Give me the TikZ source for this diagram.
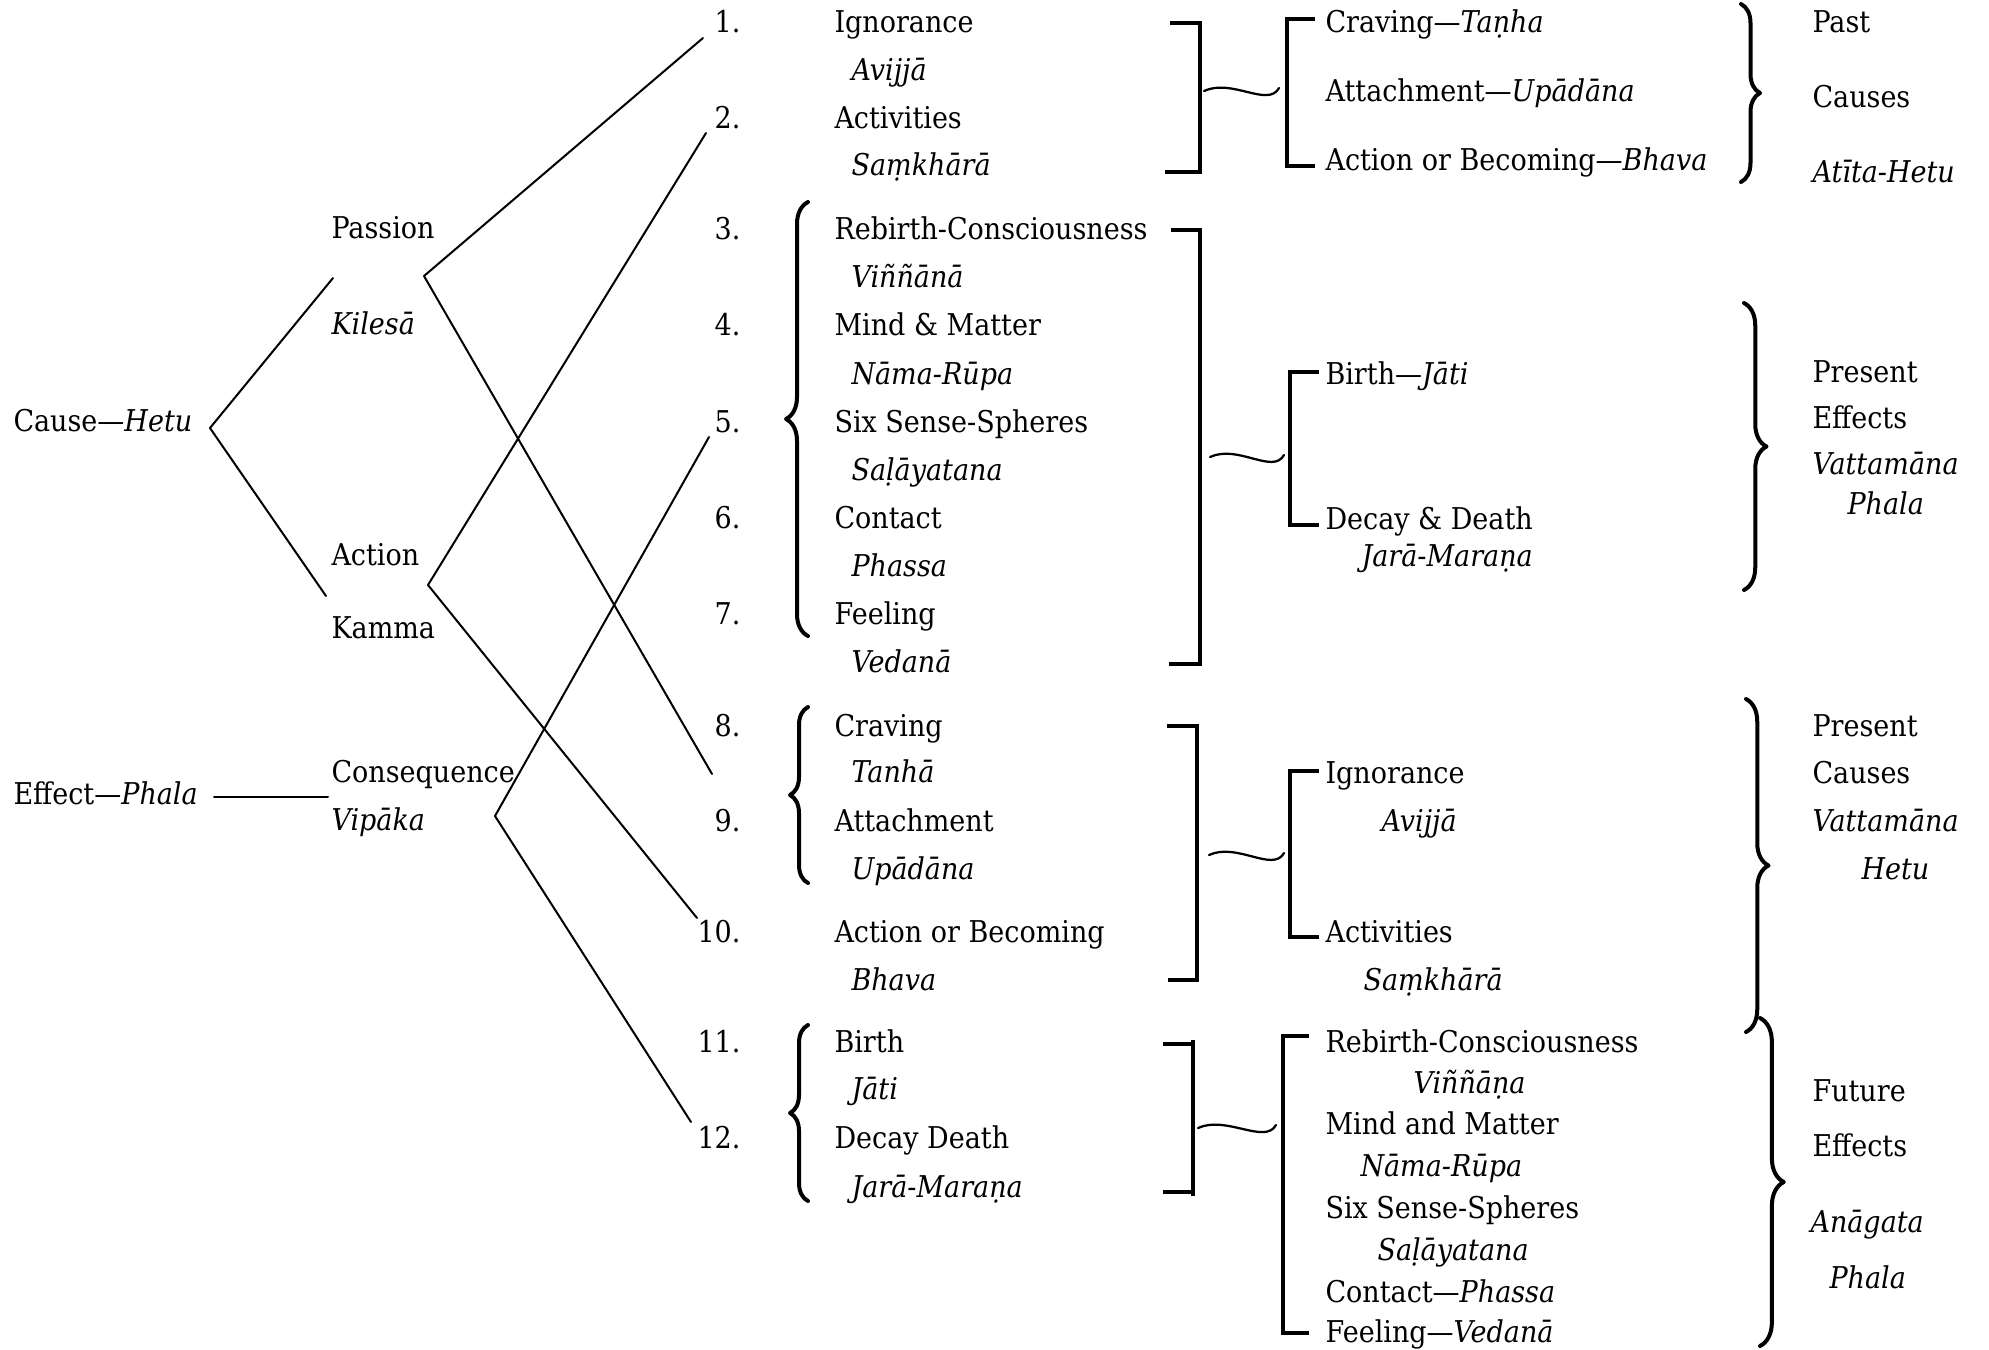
\documentclass[tikz,border=0pt]{standalone}
\usepackage{fontspec}
\setmainfont{DejaVu Serif}[FakeStretch=0.9]
\usetikzlibrary{decorations.pathreplacing}
\begin{document}
\begin{tikzpicture}[join=round, cap=round, x=0.4pt, y=-0.4pt,
		font=\fontsize{12}{14}\selectfont,
		lab/.style={anchor=base west, inner sep=0pt},
		pali/.style={anchor=base west, inner sep=0pt, font=\fontsize{12}{14}\selectfont\itshape},
		num/.style={anchor=base east, inner sep=0pt},
		tree/.style={line width=0.8pt},
		bar/.style={line width=1.4pt, cap=butt, join=miter},
		wave/.style={line width=0.9pt},
		curly/.style={decorate, decoration={brace, amplitude=#1}, line width=1.6pt},
		curly/.default=7pt]
		\useasboundingbox (0,0) rectangle (1989,1349);
		% left tree
		\path
		(13,431) node[lab] (cause) {Cause—\textit{Hetu}}
		(13,804) node[lab] (effect) {Effect—\textit{Phala}}
		(331,238) node[lab] (passion) {Passion}
		(331,334) node[pali] (kilesa) {Kilesā}
		(331,565) node[lab] (action) {Action}
		(331,638) node[lab] (kamma) {Kamma}
		(331,782) node[lab] (conseq) {Consequence}
		(331,830) node[pali] (vipaka) {Vipāka};
		\coordinate (vC) at (210,428);
		\coordinate (tP) at (333,278);
		\coordinate (tK) at (326,596);
		\coordinate (vP) at (424,276);
		\coordinate (vA) at (428,585);
		\coordinate (vV) at (495,816);
		\coordinate (eL) at (214,797);
		\coordinate (eR) at (328,797);
		\coordinate (e1) at (703,38);
		\coordinate (e2) at (706,133);
		\coordinate (e5) at (709,437);
		\coordinate (e9) at (712,774);
		\coordinate (e10) at (697,918);
		\coordinate (e12) at (691,1122);
		\draw[tree] (tP)--(vC)--(tK);
		\draw[tree] (e1)--(vP)--(e9);
		\draw[tree] (e2)--(vA)--(e10);
		\draw[tree] (e5)--(vV)--(e12);
		\draw[tree] (eL)--(eR);
		% the twelve links
		\foreach \k/\yy in {1/32,2/128,3/239,4/335,5/432,6/528,7/624,8/736,9/831,10/942,11/1052,12/1148}
		\node[num] (n\k) at (741,\yy) {\k.};
		\foreach \k/\yy/\txt in {1/32/Ignorance, 2/128/Activities, 3/239/Rebirth-Consciousness,
			4/335/Mind \& Matter, 5/432/Six Sense-Spheres, 6/528/Contact, 7/624/Feeling,
			8/736/Craving, 9/831/Attachment, 10/942/Action or Becoming, 11/1052/Birth, 12/1148/Decay Death}
		\node[lab] (m\k) at (834,\yy) {\txt};
		\foreach \k/\yy/\txt in {1/80/Avijjā, 2/175/Saṃkhārā, 3/287/Viññānā, 4/384/Nāma-Rūpa,
			5/480/Saḷāyatana, 6/576/Phassa, 7/672/Vedanā, 8/782/Tanhā, 9/879/Upādāna,
			10/990/Bhava, 11/1099/Jāti, 12/1197/Jarā-Maraṇa}
		\node[pali] (s\k) at (851,\yy) {\txt};
		\draw[curly=8.8pt] (808,636)--(808,202);
		\draw[curly=7.2pt] (808,883)--(808,707);
		\draw[curly=7.2pt] (808,1201)--(808,1025);
		% brackets
		\draw[bar] (1170,23) -| (1200,172) -- (1165,172);
		\draw[bar] (1171,230) -| (1200,664) -- (1169,664);
		\draw[bar] (1167,726) -| (1197,980) -- (1168,980);
		\draw[bar] (1163,1044)--(1193,1044) (1193,1040)--(1193,1196) (1163,1192)--(1193,1192);
		\draw[bar] (1315,19) -| (1287,166) -- (1315,166);
		\draw[bar] (1319,372) -| (1290,525) -- (1319,525);
		\draw[bar] (1319,771) -| (1290,937) -- (1319,937);
		\draw[bar] (1309,1036) -| (1283,1333) -- (1309,1333);
		\coordinate (wlA) at (1204,91);  \coordinate (wrA) at (1279,88);
		\coordinate (wlB) at (1210,457); \coordinate (wrB) at (1284,455);
		\coordinate (wlC) at (1209,855); \coordinate (wrC) at (1284,853);
		\coordinate (wlD) at (1198,1128); \coordinate (wrD) at (1276,1125);
		\foreach \g in {A,B,C,D}
		\draw[wave] (wl\g) .. controls +(28,-13) and +(-11,20) .. (wr\g);
		% regrouped links
		\path
		(1325,32) node[lab] (a1) {Craving—\textit{Taṇha}}
		(1325,101) node[lab] (a2) {Attachment—\textit{Upādāna}}
		(1325,170) node[lab] (a3) {Action or Becoming—\textit{Bhava}}
		(1325,384) node[lab] (b1) {Birth—\textit{Jāti}}
		(1325,529) node[lab] (b2) {Decay \& Death}
		(1361,566) node[pali] (b3) {Jarā-Maraṇa}
		(1325,783) node[lab] (c1) {Ignorance}
		(1381,831) node[pali] (c2) {Avijjā}
		(1325,942) node[lab] (c3) {Activities}
		(1363,990) node[pali] (c4) {Saṃkhārā}
		(1325,1052) node[lab] (d1) {Rebirth-Consciousness}
		(1413,1093) node[pali] (d2) {Viññāṇa}
		(1325,1134) node[lab] (d3) {Mind and Matter}
		(1360,1176) node[pali] (d4) {Nāma-Rūpa}
		(1325,1218) node[lab] (d5) {Six Sense-Spheres}
		(1377,1260) node[pali] (d6) {Saḷāyatana}
		(1325,1302) node[lab] (d7) {Contact—\textit{Phassa}}
		(1325,1342) node[lab] (d8) {Feeling—\textit{Vedanā}};
		% periods
		\draw[curly=7.6pt] (1741,4)--(1741,182);
		\draw[curly=9pt] (1744,303)--(1744,590);
		\draw[curly=9pt] (1746,699)--(1746,1032);
		\draw[curly=9.5pt] (1760,1018)--(1760,1346);
		\path
		(1812,32) node[lab] (pA1) {Past}
		(1812,107) node[lab] (pA2) {Causes}
		(1812,182) node[pali] (pA3) {Atīta-Hetu}
		(1812,382) node[lab] (pB1) {Present}
		(1812,428) node[lab] (pB2) {Effects}
		(1812,474) node[pali] (pB3) {Vattamāna}
		(1847,514) node[pali] (pB4) {Phala}
		(1812,736) node[lab] (pC1) {Present}
		(1812,783) node[lab] (pC2) {Causes}
		(1812,831) node[pali] (pC3) {Vattamāna}
		(1861,879) node[pali] (pC4) {Hetu}
		(1812,1101) node[lab] (pD1) {Future}
		(1812,1156) node[lab] (pD2) {Effects}
		(1810,1232) node[pali] (pD3) {Anāgata}
		(1829,1288) node[pali] (pD4) {Phala};
	\end{tikzpicture}
\end{document}
